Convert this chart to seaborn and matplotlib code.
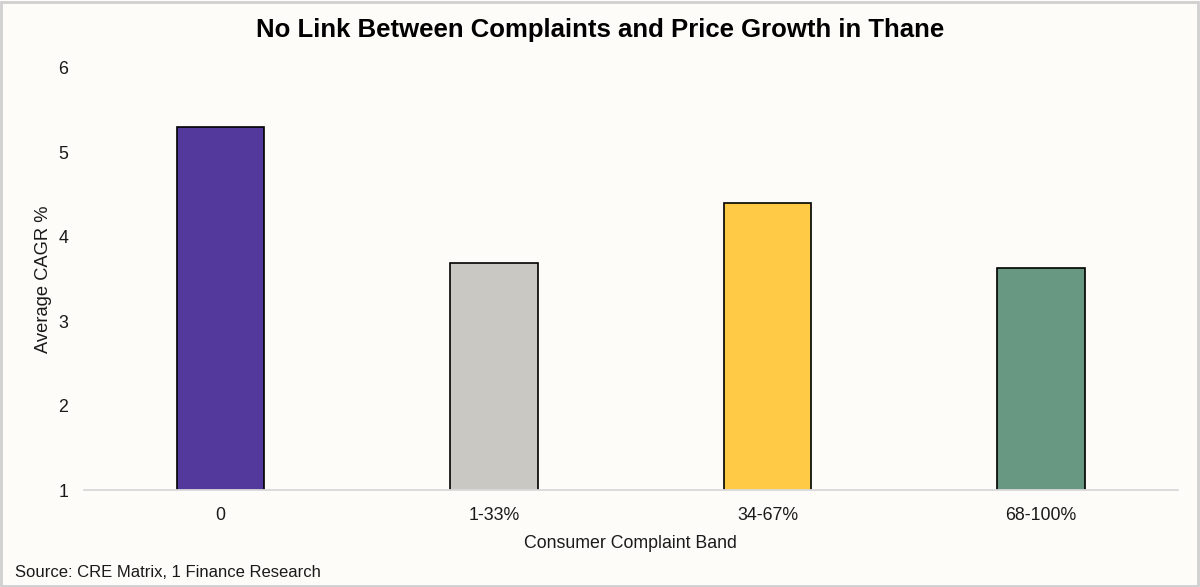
import pandas as pd
import seaborn as sns
import matplotlib.pyplot as plt
from matplotlib.patches import Rectangle

# dados
bands = ['0', '1-33%', '34-67%', '68-100%']
cagr = [5.30, 3.69, 4.40, 3.63]
colors = ['#52399B', '#C9C8C3', '#FFCA45', '#689882']
yticks = [1, 2, 3, 4, 5, 6]

df = pd.DataFrame({'band': bands, 'cagr': cagr})

sns.set_theme(style='white')
plt.rcParams['font.family'] = ['Liberation Sans', 'DejaVu Sans']

bg = '#FDFCF9'
fig = plt.figure(figsize=(12, 5.87), dpi=100, facecolor=bg)
ax = fig.add_axes([0.0697, 0.1652, 0.912, 0.719])
ax.set_facecolor(bg)

sns.barplot(data=df, x='band', y='cagr', hue='band', palette=colors,
            saturation=1, legend=False, width=0.32, edgecolor='black',
            linewidth=1.2, ax=ax)

ax.set_ylim(1, 6)
ax.set_yticks(yticks)
ax.set_xlim(-0.5, 3.5)
ax.tick_params(axis='both', length=0, labelsize=12.8, colors='#1a1a1a')
ax.tick_params(axis='x', pad=12)
ax.tick_params(axis='y', pad=11)
for s in ['left', 'right', 'top']:
    ax.spines[s].set_visible(False)
ax.spines['bottom'].set_color('#D9D9D9')
ax.spines['bottom'].set_linewidth(1.3)

ax.set_xlabel('Consumer Complaint Band', fontsize=12.8, color='#1a1a1a', labelpad=8)
ax.set_ylabel('Average CAGR %', fontsize=13.2, color='#1a1a1a', labelpad=5)

fig.suptitle('No Link Between Complaints and Price Growth in Thane',
             x=0.5, y=0.949, va='center', fontsize=18.5, fontweight='bold', color='black')
fig.text(0.0125, 0.025, 'Source: CRE Matrix, 1 Finance Research',
         fontsize=12, color='#1a1a1a', va='center')

# moldura
fig.patches.append(Rectangle((0.001, 0.002), 0.997, 0.995, transform=fig.transFigure,
                             fill=False, edgecolor='#D0D0D0', linewidth=2))

fig.savefig('out.png', dpi=100, facecolor=bg)
